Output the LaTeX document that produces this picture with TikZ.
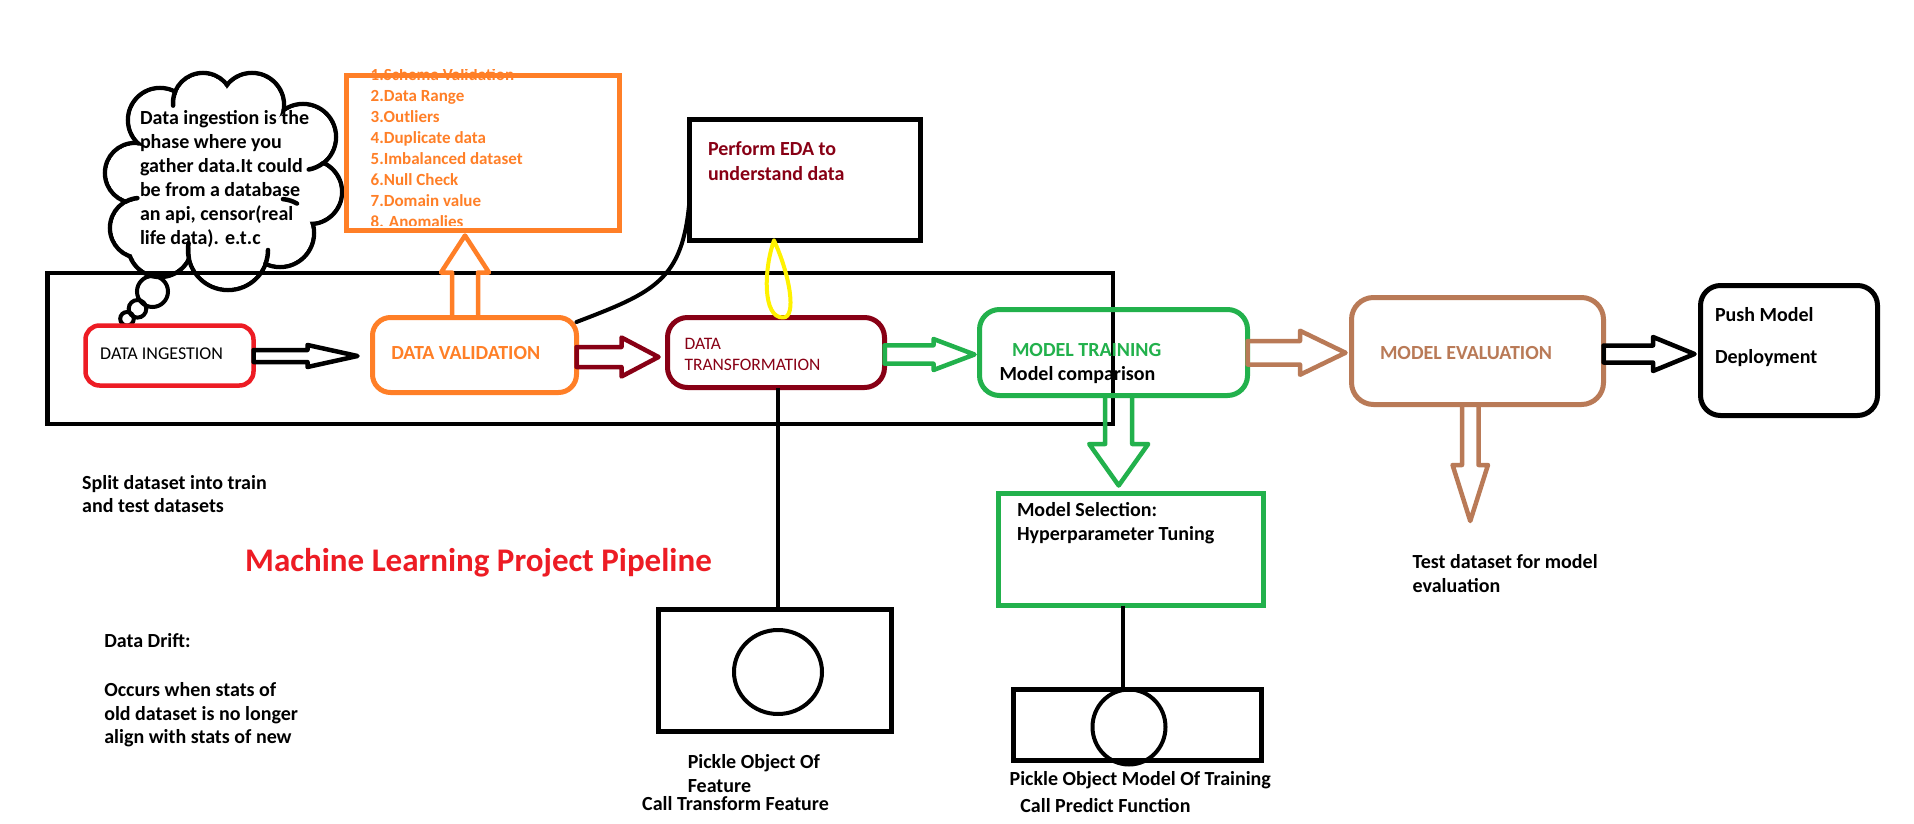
\documentclass[tikz,border=0pt]{standalone}
\usepackage{fontspec}
\setmainfont{Carlito}
\usetikzlibrary{calc,shapes.geometric}
\definecolor{pOrange}{HTML}{FF7F27}
\definecolor{pRed}{HTML}{ED1C24}
\definecolor{pDark}{HTML}{880015}
\definecolor{pGreen}{HTML}{22B14C}
\definecolor{pBrown}{HTML}{B97A57}
\definecolor{pYellow}{HTML}{FFF200}
\tikzset{
  box/.style={draw, rectangle, inner sep=0pt, outer sep=0pt, line width=5pt},
  ring/.style={draw, ellipse, inner sep=0pt, outer sep=0pt, line width=4pt},
  txt/.style={anchor=base west, inner sep=0pt, outer sep=0pt, font=\fontsize{20}{24}\selectfont\bfseries},
  listtxt/.style={txt, text=pOrange, font=\fontsize{17}{21}\selectfont\bfseries},
  blockarrow/.style={draw=#1, line width=4.5pt, line join=round},
  hook/.style={line width=4.5pt, line cap=round},
  hblock/.style n args={5}{to path={let \p1=(\tikztostart), \p2=(\tikztotarget), \p3=(0,#1) in
     (\x1,\y3+#2) -- (\x2-#5-#4,\y3+#2) -- (\x2-#5-#4,\y3+#3) -- (\x2-#5,\y3) -- (\x2-#5-#4,\y3-#3) -- (\x2-#5-#4,\y3-#2) -- (\x1,\y3-#2) -- cycle}},
  vdown/.style n args={5}{to path={let \p1=(\tikztostart), \p2=(\tikztotarget), \p3=(#1,0) in
     (\x3-#2,\y1) -- (\x3-#2,\y2+#5+#4) -- (\x3-#3,\y2+#5+#4) -- (\x3,\y2+#5) -- (\x3+#3,\y2+#5+#4) -- (\x3+#2,\y2+#5+#4) -- (\x3+#2,\y1) -- cycle}},
  vup/.style n args={5}{to path={let \p1=(\tikztostart), \p2=(\tikztotarget), \p3=(#1,0) in
     (\x3-#2,\y1) -- (\x3-#2,\y2-#5-#4) -- (\x3-#3,\y2-#5-#4) -- (\x3,\y2-#5) -- (\x3+#3,\y2-#5-#4) -- (\x3+#2,\y2-#5-#4) -- (\x3+#2,\y1) -- cycle}},
}
\begin{document}
\begin{tikzpicture}[x=1pt,y=-1pt]
\useasboundingbox (0,0) rectangle (1914,824);
\fill[white] (0,0) rectangle (1914,824);

% ---- thought cloud
\foreach \cx/\cy/\r in {135/173/30, 140/228/30, 160/245/32, 228/250/40, 280/233/34, 310/192/32, 303/137/33, 252/105/32, 203/103/30, 160/120/32}
  {\draw[line width=4.5pt] (\cx,\cy) circle[radius=\r pt];}
\foreach \cx/\cy/\r in {135/173/30, 140/228/30, 160/245/32, 228/250/40, 280/233/34, 310/192/32, 303/137/33, 252/105/32, 203/103/30, 160/120/32}
  {\fill[white] (\cx,\cy) circle[radius=(\r-2.25)*1pt];}
\fill[white] (135,173) -- (140,228) -- (160,245) -- (228,250) -- (280,233) -- (310,192) -- (303,137) -- (252,105) -- (203,103) -- (160,120) -- cycle;
% little hooks of the cloud outline
\draw[hook] (125.92,201.51) arc[start angle=118, end angle=95, radius=30pt];
\draw[hook] (323.32,163.0) arc[start angle=-52, end angle=-80, radius=33pt];
\draw[hook] (282.96,199.13) arc[start angle=85, end angle=60, radius=34pt];
\draw[hook] (265.59,263.68) arc[start angle=-20, end angle=0, radius=40pt];
\draw[hook] (188.96,258.73) arc[start angle=-167.4, end angle=-190, radius=40pt];
\draw[hook] (175.18,91.76) arc[start angle=158, end angle=185, radius=30pt];

\node[txt] (c1) at (140,125) {Data ingestion is the};
\node[txt] (c2) at (140,148.5) {phase where you};
\node[txt] (c3) at (140,172.5) {gather data.It could};
\node[txt] (c4) at (140,196.5) {be from a database};
\node[txt] (c5) at (140,220.5) {an api, censor(real};
\node[txt] (c6) at (140,244) {life data). e.t.c};

% ---- big frame
\node[box, line width=4.5pt, minimum width=1065.5pt, minimum height=151pt] (frame) at (580.25,348.5) {};

% bubbles
\draw[line width=4pt] (152.5,291.5) circle[radius=15.5pt];
\draw[line width=4pt] (137.5,308.8) circle[radius=8.8pt];
\draw[line width=4pt] (127,318.8) circle[radius=6.8pt];

% ---- list box
\begin{scope}
\clip (346,69.5) rectangle (620,225.5);
\node[listtxt] (l1) at (370.7,80.7) {1.Schema Validation};
\node[listtxt] (l2) at (370.7,101.7) {2.Data Range};
\node[listtxt] (l3) at (370.7,122.7) {3.Outliers};
\node[listtxt] (l4) at (370.7,143.7) {4.Duplicate data};
\node[listtxt] (l5) at (370.7,164.7) {5.Imbalanced dataset};
\node[listtxt] (l6) at (370.7,185.7) {6.Null Check};
\node[listtxt] (l7) at (370.7,206.7) {7.Domain value};
\node[listtxt] (l8) at (370.7,227.7) {8. Anomalies};
\end{scope}
\node[box, draw=pOrange, line width=4.5pt, minimum width=273pt, minimum height=155pt] (lb) at (483,153) {};

% ---- EDA box
\node[box, minimum width=231pt, minimum height=121pt] (eda) at (805,180) {};
\node[txt, text=pDark] (e1) at (708,156) {Perform EDA to};
\node[txt, text=pDark] (e2) at (708,180) {understand data};

% ---- pipeline boxes
\node[box, draw=pRed, line width=4.5pt, rounded corners=14pt, minimum width=168pt, minimum height=60pt] (di) at (169.5,355.5) {};
\node[box, draw=pOrange, rounded corners=18pt, minimum width=204pt, minimum height=75pt] (dv) at (474.5,355) {};
\node[box, draw=pDark, rounded corners=20pt, minimum width=217pt, minimum height=70pt] (dt) at (776,352.5) {};
\node[box, draw=pGreen, rounded corners=20pt, minimum width=268pt, minimum height=86pt] (mt) at (1113.5,352.5) {};
\node[box, draw=pBrown, rounded corners=22pt, minimum width=252pt, minimum height=107pt] (me) at (1477.5,351) {};
\node[box, rounded corners=20pt, minimum width=177pt, minimum height=130pt] (push) at (1789,350.5) {};
\node[box, draw=pGreen, minimum width=265pt, minimum height=112pt] (ms) at (1131,549.5) {};

\node[txt, font=\fontsize{18}{22}\selectfont] (dit) at (100.2,359) {DATA INGESTION};
\node[txt, text=pOrange] (dvt) at (391.3,359) {DATA VALIDATION};
\node[txt, text=pDark, font=\fontsize{17.5}{21}\selectfont] (dt1) at (684.5,349) {DATA};
\node[txt, text=pDark, font=\fontsize{17.5}{21}\selectfont] (dt2) at (684.5,370) {TRANSFORMATION};
\node[txt, text=pGreen] (mt1) at (1012,356.7) {MODEL TRAINING};
\node[txt] (mt2) at (999.5,380) {Model comparison};
\node[txt, text=pBrown] (met) at (1380,359) {MODEL EVALUATION};
\node[txt] (p1) at (1715,321.7) {Push Model};
\node[txt] (p2) at (1715,363) {Deployment};

% ---- block arrows
\draw[blockarrow=black] (di.east) to[hblock={356}{6}{11}{50}{15}] (dv.west);
\draw[blockarrow=pDark] (dv.east) to[hblock={357}{10}{19.5}{37}{9}] (dt.west);
\draw[blockarrow=pGreen] (dt.east) to[hblock={354.5}{9.2}{15.5}{41}{5}] (mt.west);
\draw[blockarrow=pBrown] (mt.east) to[hblock={352.75}{11.75}{22}{45.5}{6}] (me.west);
\draw[blockarrow=black] (me.east) to[hblock={354}{8.5}{17}{41.5}{6}] (push.west);
\draw[blockarrow=pOrange] (dv.north) to[vup={465}{13}{24}{37}{5}] (lb.south);
\draw[blockarrow=pGreen] (mt.south) to[vdown={1118.7}{13.5}{29.5}{41.5}{8}] (ms.north);
\coordinate (tdtip) at (1470,521);
\draw[blockarrow=pBrown] (me.south) to[vdown={1470.25}{8.25}{17.7}{56}{0}] (tdtip);

% ---- model selection and pickles
\node[txt] (ms1) at (1017,516.7) {Model Selection:};
\node[txt] (ms2) at (1017,540.7) {Hyperparameter Tuning};

\node[box, line width=4.5pt, minimum width=233pt, minimum height=122pt] (pf) at (775,670.5) {};
\node[ring, minimum width=88pt, minimum height=84pt] (pfc) at (778,672) {};
\node[box, line width=4.5pt, minimum width=248pt, minimum height=71pt] (pm) at (1137.5,725) {};
\node[ring, minimum width=73pt, minimum height=75pt] (pmc) at (1129,727) {};

\draw[line width=4pt] (dt.south -| pfc.north) -- (pf.north -| pfc.north);
\draw[line width=4pt] ([xshift=-8pt]ms.south) -- ([xshift=-8pt]ms.south |- pm.north);

% ---- EDA connectors
\draw[line width=4pt, line cap=round] ([yshift=-4.5pt]dv.north east) .. controls (655,292) and (683,280) .. ([yshift=-20pt]eda.west);
\draw[pYellow, line width=4pt, line cap=round, line join=round] ([xshift=-31pt]eda.south) .. controls (764,268) and (762,318) .. ([xshift=7pt]dt.north) .. controls (797,318) and (790,275) .. ([xshift=-31pt]eda.south);

% ---- free texts
\node[txt] (s1) at (82.2,489.3) {Split dataset into train};
\node[txt] (s2) at (82.2,512.7) {and test datasets};
\node[txt, text=pRed, font=\fontsize{33}{40}\selectfont\bfseries] (title) at (245.2,571) {Machine Learning Project Pipeline};
\node[txt] (d1) at (104.3,647.7) {Data Drift:};
\node[txt] (d2) at (104.3,696) {Occurs when stats of};
\node[txt] (d3) at (104.3,720) {old dataset is no longer};
\node[txt] (d4) at (104.3,743.3) {align with stats of new};
\node[txt] (pf1) at (687.8,768.3) {Pickle Object Of};
\node[txt] (pf2) at (687.8,792.3) {Feature};
\node[txt] (pf3) at (642.2,810.7) {Call Transform Feature};
\node[txt] (pm1) at (1009.6,785.7) {Pickle Object Model Of Training};
\node[txt] (pm2) at (1020.4,812.3) {Call Predict Function};
\node[txt] (t1) at (1412.7,568.3) {Test dataset for model};
\node[txt] (t2) at (1412.7,592.3) {evaluation};
\end{tikzpicture}
\end{document}
